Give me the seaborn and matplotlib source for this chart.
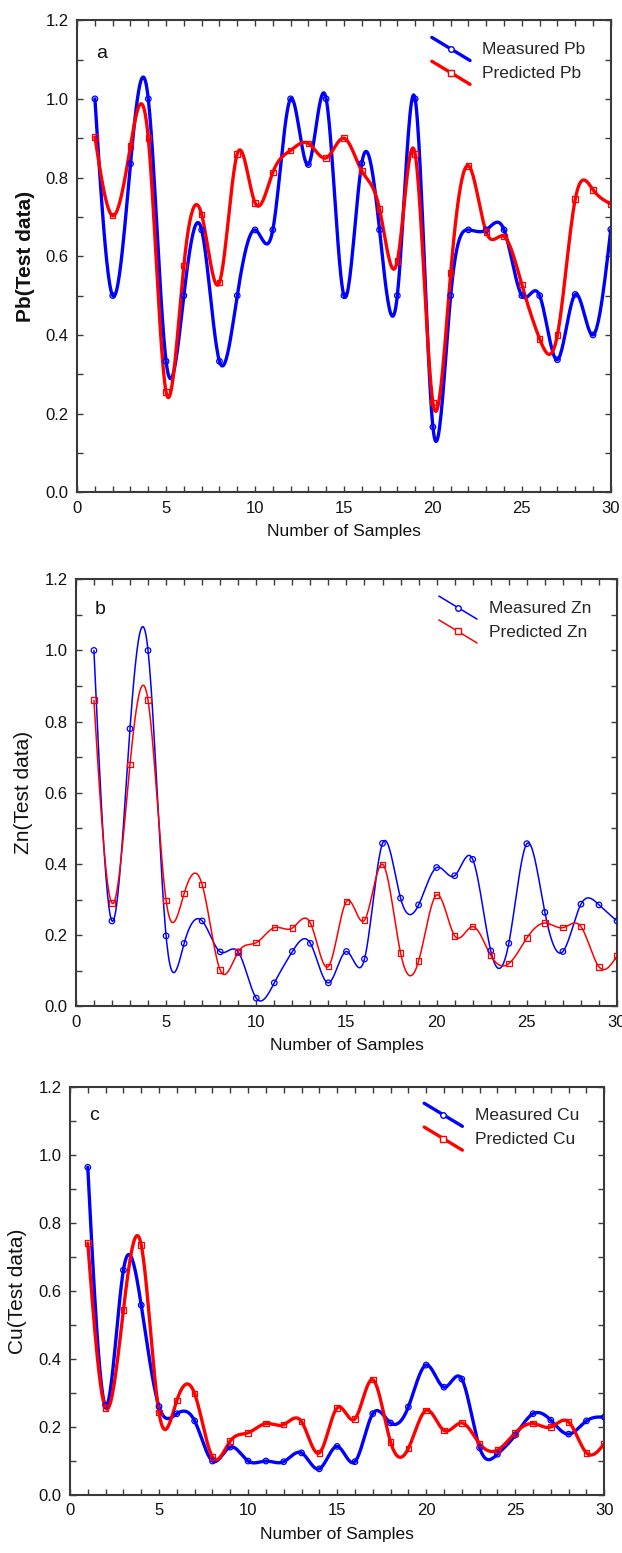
import numpy as np
import pandas as pd
import matplotlib
matplotlib.use("Agg")
import matplotlib.pyplot as plt
import seaborn as sns
from matplotlib.lines import Line2D
from matplotlib.legend_handler import HandlerBase
from matplotlib.ticker import MultipleLocator

sns.set_style("ticks")
plt.rcParams['font.family'] = ['Liberation Sans', 'DejaVu Sans']

samples = list(range(1, 31))

measured_pb = [1.0, 0.5, 0.835, 1.0, 0.333, 0.5, 0.667, 0.333, 0.5, 0.667,
               0.667, 1.0, 0.833, 1.0, 0.5, 0.836, 0.667, 0.5, 1.0, 0.166,
               0.5, 0.667, 0.667, 0.667, 0.5, 0.5, 0.337, 0.503, 0.4, 0.668]
predicted_pb = [0.903, 0.703, 0.88, 0.90, 0.255, 0.577, 0.706, 0.533, 0.86, 0.736,
                0.813, 0.869, 0.887, 0.85, 0.90, 0.817, 0.72, 0.588, 0.86, 0.228,
                0.558, 0.83, 0.661, 0.65, 0.528, 0.39, 0.40, 0.745, 0.769, 0.733]

measured_zn = [1.0, 0.24, 0.78, 1.0, 0.198, 0.177, 0.24, 0.153, 0.153, 0.023,
               0.066, 0.154, 0.177, 0.066, 0.154, 0.133, 0.458, 0.304, 0.285, 0.39,
               0.367, 0.413, 0.156, 0.177, 0.457, 0.264, 0.154, 0.287, 0.285, 0.24]
predicted_zn = [0.86, 0.29, 0.68, 0.86, 0.298, 0.317, 0.342, 0.102, 0.153, 0.179,
                0.221, 0.22, 0.234, 0.112, 0.295, 0.242, 0.399, 0.15, 0.127, 0.313,
                0.198, 0.224, 0.143, 0.12, 0.192, 0.234, 0.221, 0.224, 0.111, 0.142]

measured_cu = [0.963, 0.263, 0.661, 0.558, 0.26, 0.239, 0.218, 0.10, 0.141, 0.10,
               0.10, 0.098, 0.124, 0.077, 0.143, 0.098, 0.239, 0.212, 0.259, 0.382,
               0.317, 0.341, 0.139, 0.12, 0.176, 0.239, 0.22, 0.179, 0.218, 0.229]
predicted_cu = [0.74, 0.256, 0.543, 0.735, 0.242, 0.278, 0.298, 0.112, 0.159, 0.183,
                0.21, 0.207, 0.216, 0.124, 0.256, 0.224, 0.339, 0.156, 0.137, 0.249,
                0.19, 0.212, 0.151, 0.132, 0.183, 0.21, 0.20, 0.215, 0.124, 0.151]

x_ticks = [0, 5, 10, 15, 20, 25, 30]
y_ticks = [0.0, 0.2, 0.4, 0.6, 0.8, 1.0, 1.2]
y_tick_labels = ["0.0", "0.2", "0.4", "0.6", "0.8", "1.0", "1.2"]

panels = [
    dict(letter="a", elem="Pb", meas=measured_pb, pred=predicted_pb,
         pos=[0.124, 0.683, 0.858, 0.304], lw=2.4, bold=True),
    dict(letter="b", elem="Zn", meas=measured_zn, pred=predicted_zn,
         pos=[0.122, 0.352, 0.870, 0.275], lw=1.1, bold=False),
    dict(letter="c", elem="Cu", meas=measured_cu, pred=predicted_cu,
         pos=[0.1125, 0.0373, 0.859, 0.263], lw=2.4, bold=False),
]


def natural_spline(x, y, n=24):
    x = np.asarray(x, float)
    y = np.asarray(y, float)
    m = len(x)
    h = np.diff(x)
    A = np.zeros((m, m))
    b = np.zeros(m)
    A[0, 0] = 1
    A[-1, -1] = 1
    for i in range(1, m - 1):
        A[i, i - 1] = h[i - 1]
        A[i, i] = 2 * (h[i - 1] + h[i])
        A[i, i + 1] = h[i]
        b[i] = 3 * ((y[i + 1] - y[i]) / h[i] - (y[i] - y[i - 1]) / h[i - 1])
    c = np.linalg.solve(A, b)
    xs, ys = [], []
    for i in range(m - 1):
        t = np.linspace(0, h[i], n, endpoint=False)
        bi = (y[i + 1] - y[i]) / h[i] - h[i] * (2 * c[i] + c[i + 1]) / 3
        di = (c[i + 1] - c[i]) / (3 * h[i])
        xs.append(x[i] + t)
        ys.append(y[i] + bi * t + c[i] * t ** 2 + di * t ** 3)
    xs.append([x[-1]])
    ys.append([y[-1]])
    return np.concatenate(xs), np.concatenate(ys)


class DiagHandler(HandlerBase):
    def create_artists(self, legend, orig, xd, yd, width, height, fontsize, trans):
        x0, x1 = -xd, -xd + width
        y0, y1 = -yd + height * 1.4, -yd - height * 0.5
        ln = Line2D([x0, x1], [y0, y1], color=orig.get_color(),
                    lw=orig.get_linewidth(), transform=trans)
        mk = Line2D([(x0 + x1) / 2], [(y0 + y1) / 2], marker=orig.get_marker(),
                    ms=orig.get_markersize(), mfc="white", mec=orig.get_color(),
                    mew=1.0, ls="none", transform=trans)
        return [ln, mk]


fig = plt.figure(figsize=(6.22, 15.53), dpi=100)
spine_col = "#3a3a3a"

for p in panels:
    ax = fig.add_axes(p["pos"])
    for vals, col, mk, lab in [(p["meas"], "#0000ff", "o", "Measured " + p["elem"]),
                               (p["pred"], "#ff0000", "s", "Predicted " + p["elem"])]:
        xs, ys = natural_spline(samples, vals)
        sns.lineplot(x=xs, y=ys, ax=ax, color=col, lw=p["lw"], sort=False,
                     estimator=None, legend=False)
        df = pd.DataFrame({"x": samples, "y": vals})
        sns.scatterplot(data=df, x="x", y="y", ax=ax, marker=mk, s=16,
                        facecolor="none", edgecolor=col, linewidth=0.9,
                        legend=False, zorder=3)
    ax.set_xlim(0, 30)
    ax.set_ylim(0, 1.2)
    ax.set_xticks(x_ticks)
    ax.set_yticks(y_ticks)
    ax.set_yticklabels(y_tick_labels)
    ax.xaxis.set_minor_locator(MultipleLocator(1))
    ax.yaxis.set_minor_locator(MultipleLocator(0.1))
    ax.tick_params(which="both", direction="in", top=True, right=True,
                   length=4, width=1.0, color=spine_col, labelsize=12,
                   labelcolor="#111111", pad=6)
    for s in ax.spines.values():
        s.set_color(spine_col)
        s.set_linewidth(1.5)
    ax.set_xlabel("Number of Samples", fontsize=12.5, color="#111111", labelpad=6)
    ax.set_ylabel(p["elem"] + "(Test data)", fontsize=15, color="#111111",
                  fontweight="bold" if p["bold"] else "normal", labelpad=8)
    ax.text(0.035, 0.93, p["letter"], transform=ax.transAxes, fontsize=14,
            color="#111111", va="center", ha="left")
    h1 = Line2D([], [], color="#0000ff", lw=p["lw"], marker="o", ms=4.0)
    h2 = Line2D([], [], color="#ff0000", lw=p["lw"], marker="s", ms=4.0)
    ax.legend([h1, h2], ["Measured " + p["elem"], "Predicted " + p["elem"]],
              handler_map={Line2D: DiagHandler()}, loc="upper right",
              frameon=False, fontsize=12.5, handlelength=2.2, handletextpad=0.7,
              labelspacing=0.5, borderaxespad=0.6, bbox_to_anchor=(0.985, 0.99))

fig.savefig("out.png", dpi=100)
